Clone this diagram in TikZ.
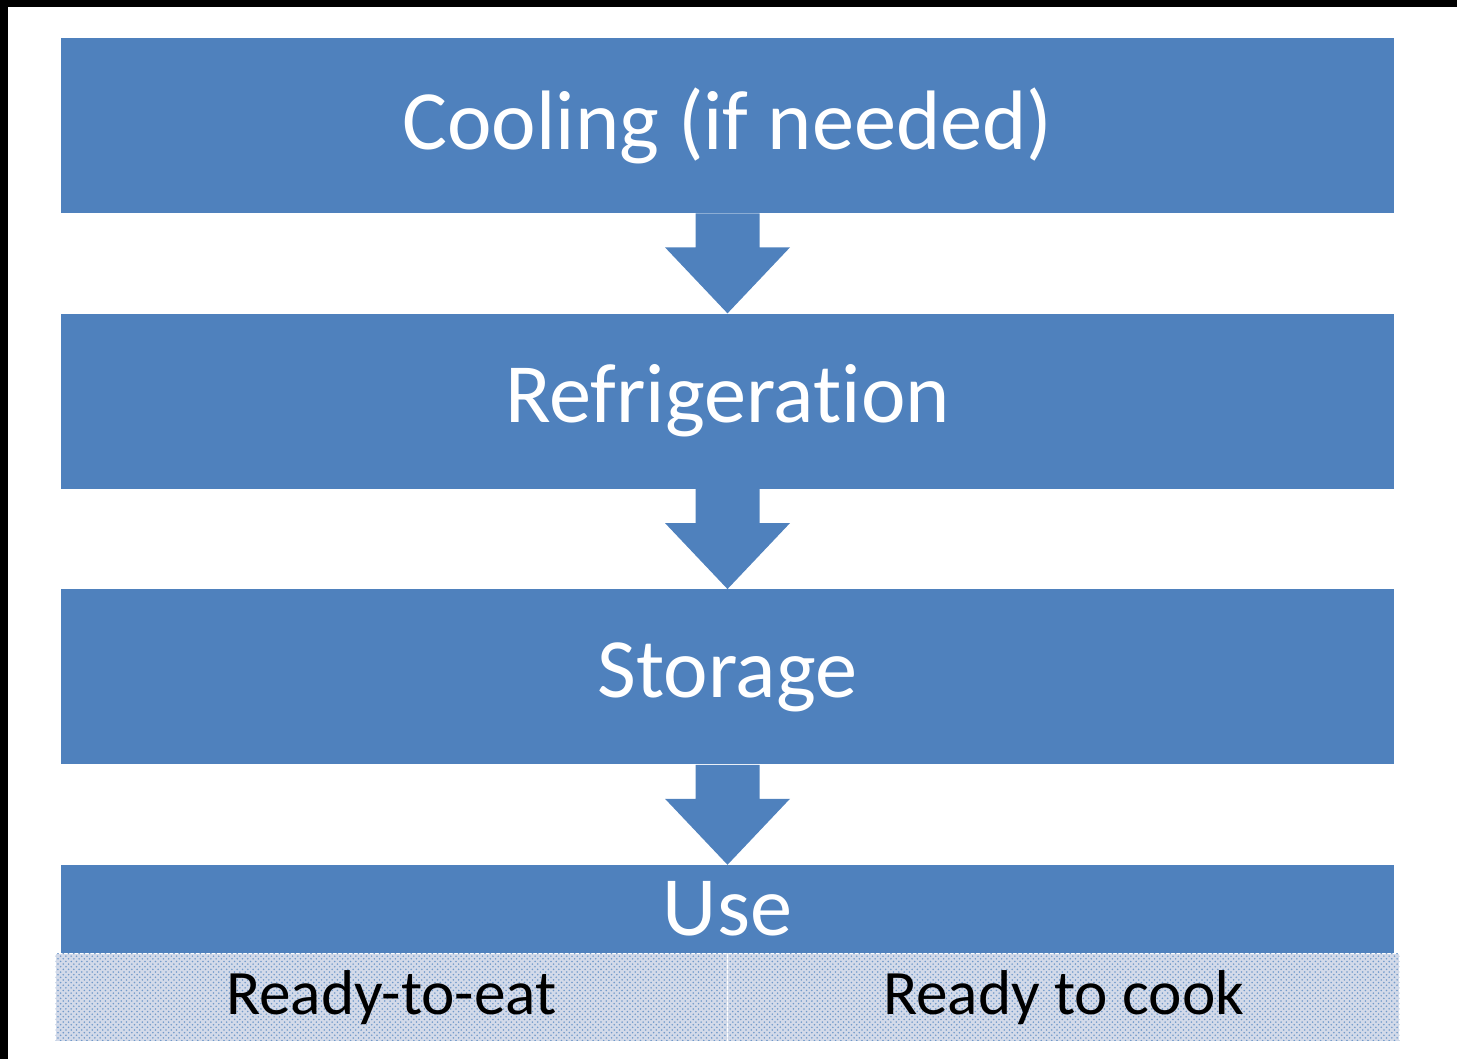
\documentclass[tikz,border=0pt]{standalone}
\usepackage{fontspec}
\setmainfont{Carlito}[Ligatures=NoCommon]
\usetikzlibrary{positioning,calc,patterns}
\definecolor{boxblue}{HTML}{4F81BD}
\definecolor{dotbg}{HTML}{D3DAE9}
\tikzset{
    stage/.style =  {rectangle,
                    fill=boxblue,
                    text=white,
                    inner sep=0pt,
                    minimum width=26.66cm,
                    minimum height=3.5cm,
                    font=\fontsize{48}{57}\selectfont},
    half/.style =   {rectangle,
                    fill=dotbg,
                    postaction={pattern=crosshatch dots, pattern color=boxblue!80},
                    text=black,
                    inner sep=0pt,
                    minimum width=13.43cm,
                    minimum height=1.74cm,
                    font=\fontsize{36}{43}\selectfont},
    blockarrow/.style = {fill=boxblue},
    node distance=2.0cm}

\begin{document}
\begin{tikzpicture}
    \useasboundingbox (0,0) rectangle (29.14,-21.18);
    \fill[black] (0,0) rectangle (29.14,-0.14);
    \fill[black] (0,0) rectangle (0.16,-21.18);

    \node[stage]    (cool)  at (14.55,-2.51)    {Cooling (if needed)};
    \node[stage]    (refr)  [below=of cool]     {Refrigeration};
    \node[stage]    (store) [below=of refr]     {Storage};
    \node[stage, minimum height=1.76cm] (use) [below=of store] {Use};

    \node[half]     (eat)   [below left=0cm and 0cm of use.south]   {Ready-to-eat};
    \node[half]     (cook)  [below right=0cm and 0cm of use.south]  {Ready to cook};

    % block arrows between the stages
    \foreach \a/\b in {cool/refr, refr/store, store/use}
        \fill[blockarrow] ($(\a.south)+(-0.64,0)$) -- ++(0,-0.68) -- ++(-0.61,0)
            -- (\b.north) -- ($(\a.south)+(1.25,-0.68)$) -- ++(-0.61,0)
            -- ($(\a.south)+(0.64,0)$) -- cycle;
\end{tikzpicture}
\end{document}
